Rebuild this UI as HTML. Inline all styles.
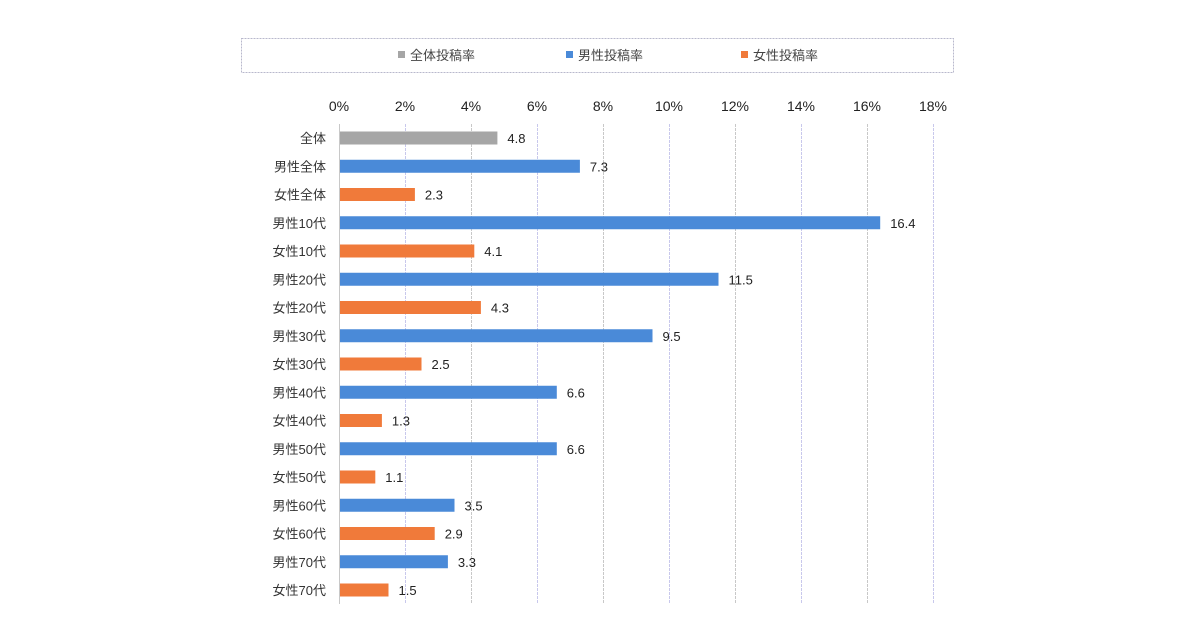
<!DOCTYPE html>
<html><head><meta charset="utf-8"><style>
body{margin:0;background:#fff;width:1200px;height:630px;overflow:hidden;font-family:"Liberation Sans","Noto Sans CJK JP",sans-serif;}
svg text{font-family:"Liberation Sans","Noto Sans CJK JP",sans-serif;}
</style></head><body>
<svg id="chart" width="1200" height="630" xmlns="http://www.w3.org/2000/svg">
<rect x="241.5" y="38.5" width="712" height="34" fill="#fff" stroke="#b8b8cc" stroke-dasharray="2,1"/>
<g><rect x="398" y="51" width="7" height="7" fill="#a6a6a6"/><text x="410" y="60" font-size="13" fill="#444">全体投稿率</text></g>
<g><rect x="566" y="51" width="7" height="7" fill="#4a8ad8"/><text x="578" y="60" font-size="13" fill="#444">男性投稿率</text></g>
<g><rect x="741" y="51" width="7" height="7" fill="#f07a3a"/><text x="753" y="60" font-size="13" fill="#444">女性投稿率</text></g>
<g id="grid"></g><g id="bars"></g>
</svg>
<script>
const categories=["全体","男性全体","女性全体","男性10代","女性10代","男性20代","女性20代","男性30代","女性30代","男性40代","女性40代","男性50代","女性50代","男性60代","女性60代","男性70代","女性70代"];
const values=[4.8,7.3,2.3,16.4,4.1,11.5,4.3,9.5,2.5,6.6,1.3,6.6,1.1,3.5,2.9,3.3,1.5];
const groups=["total","male","female","male","female","male","female","male","female","male","female","male","female","male","female","male","female"];
const ticks=[0,2,4,6,8,10,12,14,16,18];
const colors={total:"#a6a6a6",male:"#4a8ad8",female:"#f07a3a"};
const NS="http://www.w3.org/2000/svg";
const x=v=>339+v*33;
const y=i=>138+i*28.25;
const grid=document.getElementById("grid"),bars=document.getElementById("bars");
function mk(tag,attrs,parent){const e=document.createElementNS(NS,tag);for(const k in attrs)e.setAttribute(k,attrs[k]);parent.appendChild(e);return e;}
ticks.forEach(t=>{
 const l=mk("line",{x1:x(t)+.5,x2:x(t)+.5,y1:124,y2:604,stroke:t%4===0?"#c8c8c8":"#c8c8ec","stroke-dasharray":t===0?"":"3,1"},grid);
 
 
 const tx=mk("text",{x:x(t),y:111,"font-size":14,"text-anchor":"middle",fill:"#222"},grid);
 tx.textContent=t+"%";
 
 
});
categories.forEach((c,i)=>{
 const r=mk("rect",{x:x(0)+1,y:y(i)-6.5,width:x(values[i])-x(0)-1,height:13,fill:colors[groups[i]]},bars);
 
 
 const lb=mk("text",{x:326,y:y(i)+5,"font-size":13,"text-anchor":"end",fill:"#333"},bars);
 lb.textContent=c;
 
 
 const vl=mk("text",{x:x(values[i])+10,y:y(i)+5,"font-size":13,fill:"#222"},bars);
 vl.textContent=values[i].toFixed(1);
 
 
});
</script>
</body></html>
